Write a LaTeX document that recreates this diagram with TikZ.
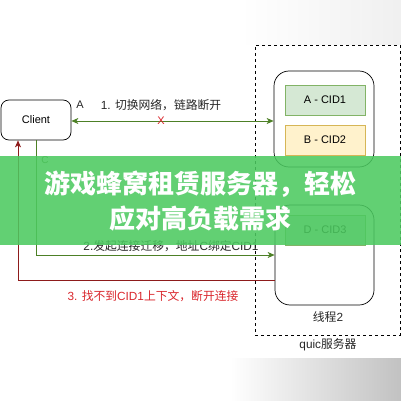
\documentclass[tikz,border=0pt]{standalone}
\usepackage{fontspec}
\setmainfont{Liberation Sans}
\newfontfamily\cjk{Noto Sans CJK SC}
\usetikzlibrary{arrows.meta,positioning,calc}
\definecolor{lgreen}{HTML}{4D8026}
\definecolor{ldred}{HTML}{8E1B1B}
\definecolor{tred}{HTML}{D9262C}
\definecolor{cidgreen}{HTML}{D5E8D4}
\definecolor{cidgreenb}{HTML}{82B366}
\definecolor{cidyel}{HTML}{FFF2CC}
\definecolor{cidyelb}{HTML}{D6B656}
\definecolor{banner}{HTML}{4CC960}
\begin{document}
\begin{tikzpicture}[x=1pt,y=-1pt,
  font=\fontsize{11}{13}\selectfont,
  dashbox/.style={draw=black,dashed,line width=0.6pt,minimum width=145pt,minimum height=290pt,inner sep=0pt},
  thread/.style={draw=black,line width=0.7pt,rounded corners=15pt,minimum width=100pt,inner sep=0pt},
  cid/.style={draw=#1b,fill=#1,line width=0.6pt,minimum width=80pt,minimum height=30pt,inner sep=0pt},
  clientbox/.style={draw=black,line width=0.7pt,rounded corners=8pt,minimum width=70pt,minimum height=40pt,inner sep=0pt},
  garrow/.style={draw=lgreen,line width=0.7pt},
  rarrow/.style={draw=ldred,line width=0.7pt},
  tip/.style={-{Stealth[length=7pt,width=6pt,inset=2pt]}},
  lbl/.style={inner sep=0pt,text=black!85},
  mixed/.style={font=\fontsize{11.8}{14}\selectfont},
]
\useasboundingbox (0,0) rectangle (401,401);
% faint gradients at edges
\shade[left color=white,right color=black!6] (240,0) rectangle (401,45);
\shade[left color=white,right color=black!24] (230,358) rectangle (401,401);

\node[dashbox] (srv) at (327.5,190) {};
\node[lbl,mixed] (srvl) at (328,345) {quic{\cjk 服务器}};

\node[thread,minimum height=96pt] (t1) at (324,119) {};
\node[cid=cidgreen] (a) at (325,100) {A - CID1};
\node[cid=cidyel] (b) at (325,140) {B - CID2};

\node[thread,minimum height=100pt,minimum width=99pt] (t2) at (324.5,255) {};
\node[cid=cidgreen] (d) at (325,230) {D - CID3};
\node[lbl,mixed] (t2l) at (328,317) {{\cjk 线程}2};

\node[clientbox] (client) at (36,120) {Client};

% arrow 1
\draw[garrow,{Stealth[length=7pt,width=6pt,inset=2pt]}-{Stealth[length=7pt,width=6pt,inset=2pt]}]
  ([yshift=-1pt]client.east) -- ([yshift=-1pt]client.east -| t1.west);
\node[lbl] (la) at (80,105) {A};
\node[lbl,mixed] (l1) at (161,105) {1. {\cjk 切换网络，链路断开}};
\node[inner sep=0pt,text=tred] (x) at (161,121) {X};

% arrow 2
\node[inner sep=0pt,text=lgreen,font=\fontsize{10}{12}\selectfont] (lc) at (45,160) {C};
\draw[garrow,tip] (client.south) |- (t2.west);
\node[lbl,mixed] (l2) at (171,246) {2.{\cjk 发起连接迁移，地址}C{\cjk 绑定}CID1};

% arrow 3
\draw[rarrow,tip] ([yshift=-25pt]t2.west) -| ([xshift=-18pt]client.south);
\node[inner sep=0pt,text=tred,mixed] (l3) at (153,296) {3. {\cjk 找不到}CID1{\cjk 上下文，断开连接}};

% banner
\fill[banner,opacity=0.88] (0,156) rectangle (401,245);
\node[inner sep=0pt,text=white,font=\cjk\bfseries\fontsize{26}{30}\selectfont] (bt1) at (200,184) {游戏蜂窝租赁服务器，轻松};
\node[inner sep=0pt,text=white,font=\cjk\bfseries\fontsize{26}{30}\selectfont] (bt2) at (200,219) {应对高负载需求};
\end{tikzpicture}
\end{document}
